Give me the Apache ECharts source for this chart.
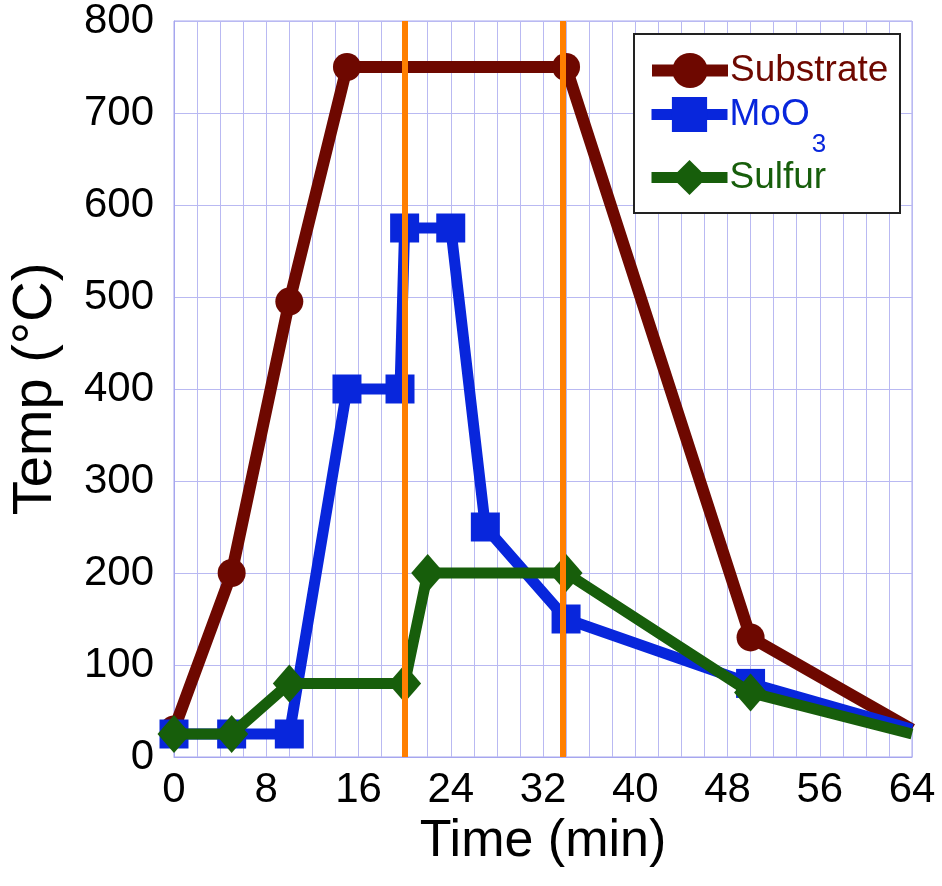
<!DOCTYPE html>
<html>
<head>
<meta charset="utf-8">
<script src="https://cdn.jsdelivr.net/npm/echarts@6/dist/echarts.min.js"></script>
<style>
  html, body { margin: 0; padding: 0; background: #fff; }
  #chart { width: 942px; height: 886px; }
</style>
</head>
<body>
<div id="chart"></div>
<script>
// time (min) / temperature (°C)
var substrateTime = [0, 5, 10, 15, 34, 50, 64];
var substrateTemp = [30, 200, 495, 750, 750, 130, 30];

var mooTime = [0, 5, 10, 15, 19.6, 20, 24, 27, 34, 50, 64];
var mooTemp = [25, 25, 25, 400, 400, 575, 575, 250, 150, 80, 30];

var sulfurTime = [0, 5, 10, 20, 22, 34, 50, 64];
var sulfurTemp = [25, 25, 80, 80, 200, 200, 70, 25];

// orange markers (growth window)
var markTimes = [20, 33.7];

var colors = { substrate: '#6e0800', moo: '#0826dc', sulfur: '#175e0b', mark: '#ff7f00' };
var font = 'Liberation Sans, Arial, sans-serif';
var gridColor = '#b9b9f2';

// the last point (64 min) has no marker in the original
function pairs(xs, ys) {
  return xs.map(function (x, i) {
    var item = { value: [x, ys[i]] };
    if (i === xs.length - 1) item.symbol = 'none';
    return item;
  });
}

var chart = echarts.init(document.getElementById('chart'));

function legendFor(name, color, top, fmt, rich) {
  return {
    left: 646,
    top: top,
    padding: 0,
    z: 10,
    itemWidth: 76,
    itemHeight: 44,
    itemGap: 0,
    selectedMode: false,
    data: [name],
    lineStyle: { width: 'inherit' },
    formatter: fmt,
    textStyle: {
      color: color,
      fontFamily: font,
      fontSize: 37,
      padding: [0, 0, 0, -3],
      rich: rich
    }
  };
}

var option = {
  animation: false,
  backgroundColor: '#fff',
  textStyle: { fontFamily: font },
  grid: {
    left: 170,
    right: 30,
    top: 21,
    bottom: 129,
    show: true,
    borderColor: '#a6a6ee',
    borderWidth: 1
  },
  legend: [
    legendFor('Substrate', colors.substrate, 52),
    legendFor('MoO3', colors.moo, 96, '{a|MoO}{s|3}', {
      a: { color: colors.moo, fontSize: 37, fontFamily: font },
      s: { color: colors.moo, fontSize: 26, fontFamily: font, padding: [60, 0, 0, 2] }
    }),
    legendFor('Sulfur', colors.sulfur, 159)
  ],
  graphic: [{
    type: 'rect',
    z: 9,
    shape: { x: 634, y: 34, width: 266, height: 179 },
    style: { fill: '#fff', stroke: '#222', lineWidth: 2 }
  }],
  xAxis: {
    type: 'value',
    min: 0,
    max: 64,
    interval: 2,
    name: 'Time (min)',
    nameLocation: 'middle',
    nameGap: 50,
    nameTextStyle: { color: '#000', fontSize: 52, fontFamily: font },
    axisLine: { show: true, lineStyle: { color: '#a6a6ee' } },
    axisTick: { show: false },
    axisLabel: {
      color: '#000',
      fontSize: 42,
      fontFamily: font,
      margin: 12,
      formatter: function (v) { return v % 8 === 0 ? String(v) : ''; }
    },
    splitLine: { show: true, lineStyle: { color: gridColor, width: 1 } }
  },
  yAxis: {
    type: 'value',
    min: 0,
    max: 800,
    interval: 100,
    name: 'Temp (°C)',
    nameLocation: 'middle',
    nameGap: 110,
    nameTextStyle: { color: '#000', fontSize: 56, fontFamily: font },
    axisLine: { show: true, lineStyle: { color: '#a6a6ee' } },
    axisTick: { show: false },
    axisLabel: { color: '#000', fontSize: 42, fontFamily: font, margin: 20 },
    splitLine: { show: true, lineStyle: { color: gridColor, width: 1 } }
  },
  series: [
    {
      name: 'Substrate',
      type: 'line',
      z: 2,
      data: pairs(substrateTime, substrateTemp),
      symbol: 'circle',
      symbolSize: 28,
      showAllSymbol: true,
      lineStyle: { color: colors.substrate, width: 12 },
      itemStyle: { color: colors.substrate }
    },
    {
      name: 'MoO3',
      type: 'line',
      z: 3,
      data: pairs(mooTime, mooTemp),
      symbol: 'rect',
      symbolSize: 29,
      showAllSymbol: true,
      lineStyle: { color: colors.moo, width: 11 },
      itemStyle: { color: colors.moo }
    },
    {
      name: 'Sulfur',
      type: 'line',
      z: 4,
      data: pairs(sulfurTime, sulfurTemp),
      symbol: 'diamond',
      symbolSize: [33, 38],
      showAllSymbol: true,
      lineStyle: { color: colors.sulfur, width: 11 },
      itemStyle: { color: colors.sulfur }
    },
    {
      name: 'marks',
      type: 'line',
      z: 6,
      data: [],
      markLine: {
        silent: true,
        symbol: 'none',
        label: { show: false },
        lineStyle: { color: colors.mark, width: 6, type: 'solid' },
        data: markTimes.map(function (t) { return { xAxis: t }; })
      }
    }
  ]
};

chart.setOption(option);
</script>
</body>
</html>
